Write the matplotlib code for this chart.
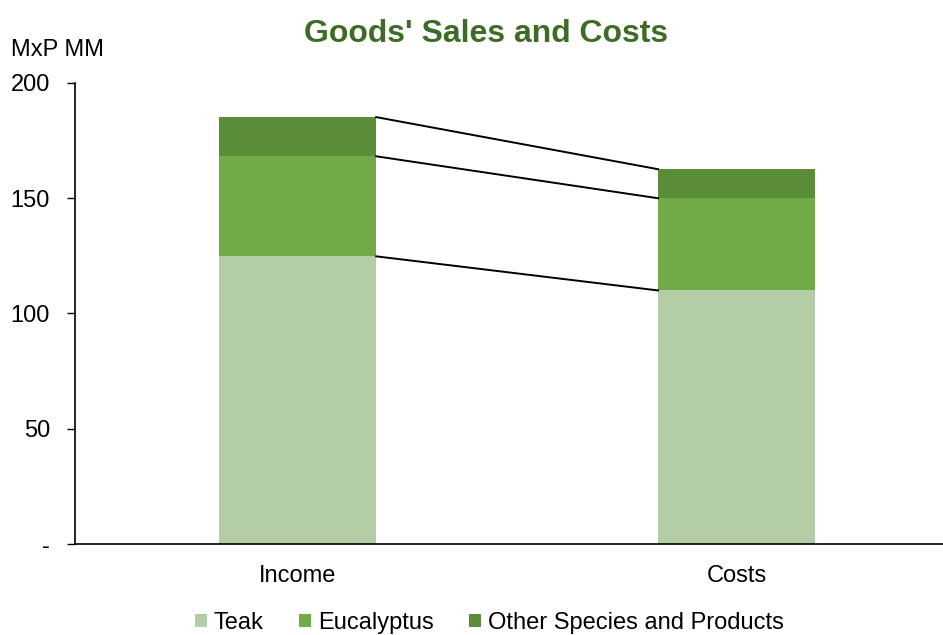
import matplotlib.pyplot as plt
import numpy as np

plt.rcParams['font.family'] = ['Liberation Sans', 'DejaVu Sans']

# Sales and costs, MxP MM
categories = ['Income', 'Costs']
teak = [124.8, 110.0]
eucalyptus = [43.4, 40.0]
other = [17.0, 12.6]
series_names = ['Teak', 'Eucalyptus', 'Other Species and Products']
colors = ['#B3CEA6', '#70AB47', '#5B8C38']

fig = plt.figure(figsize=(9.43, 6.35), dpi=100)
ax = fig.add_axes([0.0795, 0.1433, 0.9205, 0.726])

x = np.arange(len(categories))
width = 0.358
bottom = np.zeros(len(categories))
tops = []
for vals, name, c in zip([teak, eucalyptus, other], series_names, colors):
    ax.bar(x, vals, width, bottom=bottom, color=c, label=name, zorder=2)
    bottom = bottom + np.array(vals)
    tops.append(bottom.copy())

# connector lines between segment tops
for t in tops:
    ax.plot([x[0] + width / 2, x[1] - width / 2], [t[0], t[1]],
            color='black', lw=1.4, zorder=3)

ax.set_xlim(-0.507, 1.47)
ax.set_ylim(0, 200)
ax.set_yticks([0, 50, 100, 150, 200])
ax.set_yticklabels(['-', '50', '100', '150', '200'])
ax.set_xticks(x)
ax.set_xticklabels(categories)
ax.tick_params(axis='y', direction='out', length=6, width=1, labelsize=17, pad=12)
ax.tick_params(axis='x', length=0, labelsize=17, pad=15)

ax.spines['top'].set_visible(False)
ax.spines['right'].set_visible(False)
ax.spines['left'].set_linewidth(1.2)
ax.spines['bottom'].set_linewidth(1.2)

fig.text(0.515, 0.947, "Goods' Sales and Costs", ha='center', va='center',
         fontsize=23, fontweight='bold', color='#3E6B25')
fig.text(0.012, 0.921, 'MxP MM', ha='left', va='center', fontsize=17)

fig.legend(loc='center', bbox_to_anchor=(0.519, 0.019), ncol=3, frameon=False,
           fontsize=17, handlelength=0.5, handleheight=0.5, handletextpad=0.3,
           columnspacing=1.5, borderpad=0)

fig.savefig('out.png', dpi=100)
